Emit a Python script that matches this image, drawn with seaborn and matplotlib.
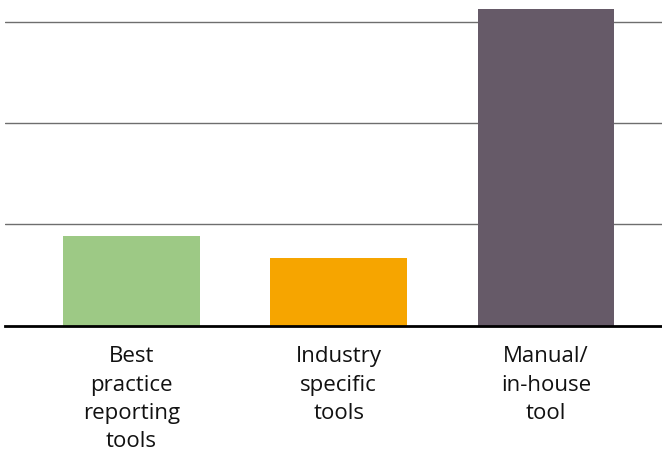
import matplotlib
matplotlib.use("Agg")
import matplotlib.pyplot as plt
import seaborn as sns
import pandas as pd

categories = ["Best\npractice\nreporting\ntools", "Industry\nspecific\ntools", "Manual/\nin-house\ntool"]
values = [17.7, 13.3, 62.5]
colors = ["#9DC985", "#F6A500", "#665A68"]

sns.set_theme(style="white")
plt.rcParams["font.family"] = ["Open Sans", "DejaVu Sans"]

df = pd.DataFrame({"tool": categories, "share": values})

fig = plt.figure(figsize=(6.62, 4.54), dpi=100)
ax = fig.add_axes([5 / 662, (454 - 325.5) / 454, 1 - 5 / 662, 325.5 / 454])

sns.barplot(data=df, x="tool", y="share", hue="tool", palette=colors,
            width=0.66, legend=False, ax=ax, saturation=1, linewidth=0)

ax.set_xlim(-0.61, 2.56)
ax.set_ylim(0, 64.3)
ax.set_yticks([20, 40, 60])
ax.yaxis.grid(True, color="#6e6e6e", linewidth=1.0)
ax.set_axisbelow(True)
ax.tick_params(axis="y", left=False, labelleft=False)
ax.tick_params(axis="x", bottom=False, pad=9)
for lbl in ax.get_xticklabels():
    lbl.set_fontsize(16)
    lbl.set_linespacing(1.46)
    lbl.set_color("#111111")
ax.set_xlabel("")
ax.set_ylabel("")
for side in ["top", "right", "left"]:
    ax.spines[side].set_visible(False)
ax.spines["bottom"].set_color("black")
ax.spines["bottom"].set_linewidth(2)

fig.savefig("out.png", dpi=100)
